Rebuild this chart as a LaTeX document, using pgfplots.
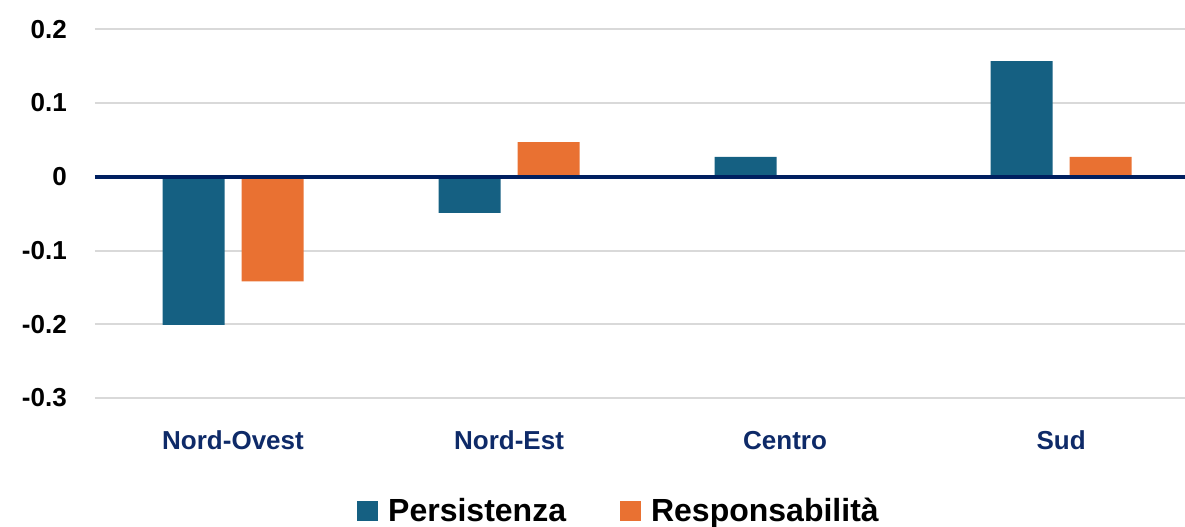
\documentclass[border=0pt]{standalone}
\usepackage{fontspec}
\setmainfont{Liberation Sans}
\usepackage{pgfplots}
\pgfplotsset{compat=1.18}
\definecolor{cP}{HTML}{156082}
\definecolor{cR}{HTML}{E97132}
\definecolor{navy}{HTML}{002060}
\definecolor{lab}{HTML}{0E2A68}
\definecolor{gridc}{HTML}{D9D9D9}
\begin{document}
\begin{tikzpicture}
\begin{axis}[
  scale only axis, width=1090bp, height=368.7bp,
  xmin=-0.5, xmax=3.449, ymin=-0.3, ymax=0.2,
  axis line style={draw=none}, major tick length=0pt,
  ytick={-0.3,-0.2,-0.1,0,0.1,0.2},
  yticklabels={-0.3,-0.2,-0.1,0,0.1,0.2},
  ymajorgrids, grid style={gridc, line width=2bp},
  xtick={0,1,2,3}, xticklabels={Nord-Ovest,Nord-Est,Centro,Sud},
  yticklabel style={font=\fontsize{26bp}{28bp}\selectfont\bfseries, text=black, anchor=east, inner sep=0pt, xshift=-28bp},
  xticklabel style={font=\fontsize{26bp}{28bp}\selectfont\bfseries, text=lab, anchor=base, yshift=-51bp},
  ybar=17bp, bar width=62bp,
  legend columns=2,
  legend style={draw=none, fill=none, at={(0.4807,0)}, anchor=north, yshift=-96bp,
    font=\fontsize{32bp}{34bp}\selectfont\bfseries,
    /tikz/every even column/.append style={column sep=52bp}},
  legend image code/.code={\fill[#1] (0bp,-10bp) rectangle (21bp,10bp);},
]
\addplot[draw=none, fill=cP] coordinates {(0,-0.201) (1,-0.049) (2,0.027) (3,0.157)};
\addlegendentry{\hspace{8bp}Persistenza}
\addplot[draw=none, fill=cR] coordinates {(0,-0.142) (1,0.047) (2,0) (3,0.027)};
\addlegendentry{\hspace{8bp}Responsabilità}
\draw[navy, line width=4.5bp] (axis cs:-0.5,0) -- (axis cs:3.449,0);
\end{axis}
\pgfresetboundingbox
\useasboundingbox (-95bp,-129bp) rectangle (1090bp,398bp);
\end{tikzpicture}
\end{document}
